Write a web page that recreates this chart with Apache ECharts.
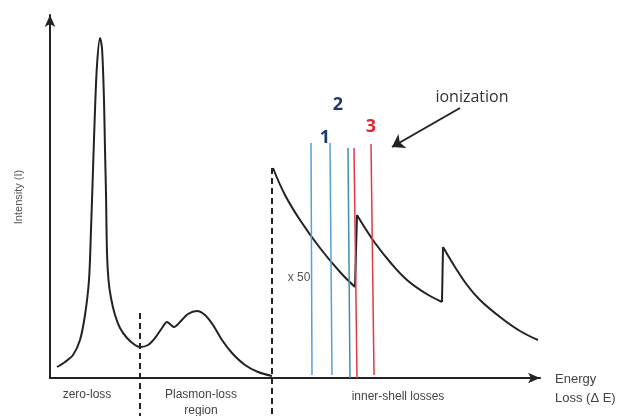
<!DOCTYPE html>
<html lang="en">
<head>
    <meta charset="UTF-8">
    <title>EELS spectrum</title>
    <script src="https://cdn.jsdelivr.net/npm/echarts@6/dist/echarts.min.js"></script>
    <style>
        body { margin: 0; background: #fff; }
        #chart { width: 630px; height: 416px; }
    </style>
</head>
<body>
    <div id="chart"></div>
    <script>
        // energy loss (arbitrary units) / intensity (arbitrary units)
        var lowLoss = [[7, 11], [15, 16], [23, 23], [30, 38], [35, 63], [39, 98], [41, 148], [43, 208], [45, 268],
            [47, 313], [50, 340], [52, 330], [54, 278], [55, 228], [56, 185], [57, 125], [58.5, 98], [61, 80],
            [65, 63], [70, 50], [77, 40], [85, 33], [90, 31], [98, 33], [105, 40], [112, 50], [117, 56], [121, 53],
            [124, 51], [130, 56], [138, 64], [147, 67], [155, 63], [163, 53], [172, 38], [182, 25], [195, 13],
            [208, 6], [222, 2]];
        // inner-shell region, scaled x 50, one array per edge
        var edgeA = [[223, 210], [235, 183], [250, 158], [270, 130], [290, 106], [305, 91]];
        var edgeB = [[307, 163], [315, 150], [325, 135], [340, 116], [357, 98], [375, 85], [392, 76]];
        var edgeC = [[393, 131], [405, 111], [417, 93], [430, 78], [450, 61], [470, 47], [488, 38]];
        var jumps = [[[305, 91], [307, 163]], [[392, 76], [393, 131]]];
        var dividers = [[[90, 65], [90, -38]], [[222, 210], [222, -38]]];
        var blueLines = [[[261, 235], [262, 3]], [[280, 235], [282, 3]], [[298, 230], [300, 0]]];
        var redLines = [[[304, 230], [307, 0]], [[321, 234], [324, 3]]];
        var edgeLabels = [['1', 275, 240], ['2', 288, 273], ['3', 321, 251]];
        var edgeLabelColors = ['#1c3a6e', '#1c3a6e', '#e8242b'];
        var arrowIonization = [[410, 270], [342, 231]];

        var chart = echarts.init(document.getElementById('chart'));

        var series = [];
        function curve(data, smooth) {
            series.push({
                type: 'line', data: data, smooth: smooth, symbol: 'none', clip: false,
                lineStyle: { color: '#222', width: 2 }
            });
        }
        curve(lowLoss, 0.3);
        curve(edgeA, 0.4);
        curve(edgeB, 0.4);
        curve(edgeC, 0.4);
        jumps.forEach(function (j) { curve(j, false); });

        dividers.forEach(function (d) {
            series.push({
                type: 'line', data: d, symbol: 'none', clip: false,
                lineStyle: { color: '#222', width: 2, type: [6, 4] }
            });
        });
        blueLines.forEach(function (d, i) {
            series.push({
                type: 'line', data: d, symbol: 'none', clip: false,
                lineStyle: { color: i == 2 ? '#3e8fb5' : '#5a9fd4', width: 1.5 }
            });
        });
        redLines.forEach(function (d) {
            series.push({
                type: 'line', data: d, symbol: 'none', clip: false,
                lineStyle: { color: '#e03a45', width: 1.5 }
            });
        });

        series.push({
            type: 'scatter', symbolSize: 0, clip: false,
            itemStyle: { opacity: 1 },
            data: edgeLabels.map(function (e, i) {
                return {
                    value: [e[1], e[2]],
                    label: {
                        show: true, position: 'inside', formatter: e[0],
                        color: edgeLabelColors[i], fontSize: 18, fontWeight: 'bold',
                        fontFamily: 'Open Sans', opacity: 1
                    }
                };
            })
        });

        series.push({
            type: 'lines', coordinateSystem: 'cartesian2d', clip: false,
            symbol: ['none', 'arrow'], symbolSize: 12,
            lineStyle: { color: '#222', width: 2, opacity: 1 },
            data: [{ coords: arrowIonization }]
        });

        var txt = { fontFamily: 'Liberation Sans', fontSize: 12, fill: '#444' };
        function label(x, y, s, extra) {
            return Object.assign({ type: 'text', x: x, y: y, style: Object.assign({ text: s, align: 'center', verticalAlign: 'middle' }, txt, extra || {}) });
        }

        chart.setOption({
            backgroundColor: '#fff',
            animation: false,
            grid: { left: 50, right: 90, top: 15, bottom: 38 },
            xAxis: {
                type: 'value', min: 0, max: 490,
                axisLine: { onZero: false, symbol: ['none', 'arrow'], symbolSize: [8, 12], lineStyle: { color: '#222', width: 2 } },
                axisTick: { show: false }, axisLabel: { show: false }, splitLine: { show: false }
            },
            yAxis: {
                type: 'value', min: 0, max: 363,
                axisLine: { show: true, onZero: false, symbol: ['none', 'arrow'], symbolSize: [8, 12], lineStyle: { color: '#222', width: 2 } },
                axisTick: { show: false }, axisLabel: { show: false }, splitLine: { show: false }
            },
            series: series,
            graphic: [
                label(472, 97, 'ionization', { fontFamily: 'Open Sans', fontSize: 16, fill: '#333' }),
                label(299, 278, 'x 50', { fill: '#555' }),
                label(87, 395, 'zero-loss'),
                label(201, 395, 'Plasmon-loss'),
                label(201, 411, 'region'),
                label(398, 397, 'inner-shell losses'),
                label(555, 379, 'Energy', { align: 'left', fontSize: 13 }),
                label(555, 398, 'Loss (\u0394 E)', { align: 'left', fontSize: 13 }),
                {
                    type: 'text', x: 19, y: 197, rotation: Math.PI / 2,
                    style: { text: 'Intensity (I)', align: 'center', verticalAlign: 'middle', fontFamily: 'Liberation Sans', fontSize: 11, fill: '#555' }
                }
            ]
        });
    </script>
</body>
</html>
